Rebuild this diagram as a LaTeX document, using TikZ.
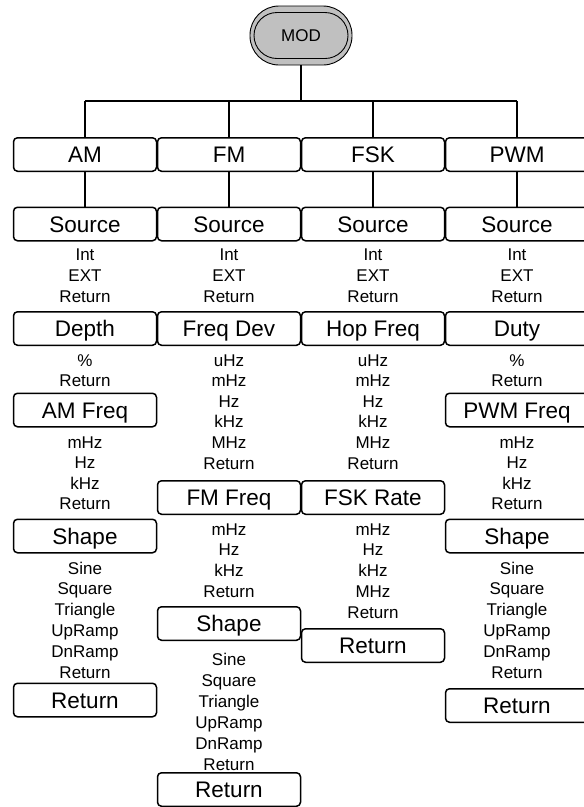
\documentclass[tikz,border=0pt]{standalone}
\usepackage{fontspec}
\setmainfont{Liberation Sans}
\definecolor{modgray}{RGB}{192,192,192}
\begin{document}
\begin{tikzpicture}[x=1pt,y=-1pt,
  box/.style={draw, line width=1.5pt, rounded corners=4pt, minimum width=143pt, minimum height=33.5pt, inner sep=0pt, text height=16pt, text depth=0pt, font=\fontsize{22.5}{27}\selectfont},
  item/.style={inner sep=0pt, text height=12.2pt, text depth=0pt, font=\fontsize{17}{20}\selectfont},
  conn/.style={line width=1.5pt}]
\useasboundingbox (0,0) rectangle (584,807);
% MOD
\node[draw, line width=0.9pt, fill=modgray, rounded corners=29pt, minimum width=102pt, minimum height=59pt, inner sep=0pt] (mod) at (301,35.5) {};
\node[draw, line width=0.9pt, rounded corners=23pt, minimum width=94pt, minimum height=46pt, inner sep=0pt, text height=12.2pt, text depth=0pt, font=\fontsize{17}{20}\selectfont] (modin) at (mod.center) {MOD};
% top row
\node[box] (am)  at (85,154.5) {AM};
\node[box] (fm)  at (229,154.5) {FM};
\node[box] (fsk) at (373,154.5) {FSK};
\node[box] (pwm) at (517,154.5) {PWM};
% source row
\node[box] (amsrc)  at (85,224) {Source};
\node[box] (fmsrc)  at (229,224) {Source};
\node[box] (fsksrc) at (373,224) {Source};
\node[box] (pwmsrc) at (517,224) {Source};
% AM column
\node[box] (depth)  at (85,328.5) {Depth};
\node[box] (amfreq) at (85,410) {AM Freq};
\node[box] (amshape) at (85,536) {Shape};
\node[box] (amret)  at (85,700) {Return};
% FM column
\node[box] (freqdev) at (229,328.5) {Freq Dev};
\node[box] (fmfreq)  at (229,497.5) {FM Freq};
\node[box] (fmshape) at (229,623.5) {Shape};
\node[box] (fmret)   at (229,789.5) {Return};
% FSK column
\node[box] (hop)    at (373,328.5) {Hop Freq};
\node[box] (rate)   at (373,497.5) {FSK Rate};
\node[box] (fskret) at (373,645.5) {Return};
% PWM column
\node[box] (duty)     at (517,328.5) {Duty};
\node[box] (pwmfreq)  at (517,410) {PWM Freq};
\node[box] (pwmshape) at (517,536) {Shape};
\node[box] (pwmret)   at (517,705.5) {Return};
% lists
\foreach \cx/\nm in {85/a,229/b,373/c,517/d}{
  \foreach \w [count=\i] in {Int,EXT,Return}
    \node[item] (src\nm\i) at (\cx,{254+21*(\i-1)}) {\w};
}
\foreach \cx/\nm in {85/a,517/d}{
  \foreach \w [count=\i] in {\%,Return}
    \node[item] (pct\nm\i) at (\cx,{360+20.5*(\i-1)}) {\w};
  \foreach \w [count=\i] in {mHz,Hz,kHz,Return}
    \node[item] (frq\nm\i) at (\cx,{442+20.5*(\i-1)}) {\w};
  \foreach \w [count=\i] in {Sine,Square,Triangle,UpRamp,DnRamp,Return}
    \node[item] (shp\nm\i) at (\cx,{568+20.8*(\i-1)}) {\w};
}
\foreach \cx/\nm in {229/b,373/c}{
  \foreach \w [count=\i] in {uHz,mHz,Hz,kHz,MHz,Return}
    \node[item] (dev\nm\i) at (\cx,{360+20.6*(\i-1)}) {\w};
}
\foreach \w [count=\i] in {mHz,Hz,kHz,Return}
  \node[item] (fmf\i) at (229,{529+20.7*(\i-1)}) {\w};
\foreach \w [count=\i] in {mHz,Hz,kHz,MHz,Return}
  \node[item] (rt\i) at (373,{529+20.8*(\i-1)}) {\w};
\foreach \w [count=\i] in {Sine,Square,Triangle,UpRamp,DnRamp,Return}
  \node[item] (fshp\i) at (229,{659+21*(\i-1)}) {\w};
% connectors
\coordinate (busL) at (85,101);
\coordinate (busR) at (517,101);
\draw[conn] (busL) -- (busR);
\draw[conn] (mod.south) -- (mod.south |- busL);
\foreach \n/\s in {am/amsrc,fm/fmsrc,fsk/fsksrc,pwm/pwmsrc}{
  \draw[conn] (\n.north) -- (\n.north |- busL);
  \draw[conn] (\n.south) -- (\s.north);
}
\end{tikzpicture}
\end{document}
